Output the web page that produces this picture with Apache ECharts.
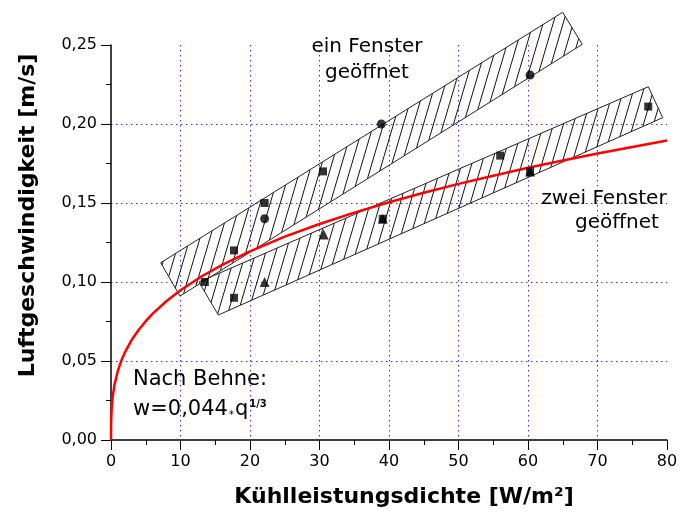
<!DOCTYPE html>
<html>
<head>
<meta charset="utf-8">
<script src="https://cdn.jsdelivr.net/npm/echarts@6/dist/echarts.min.js"></script>
<style>html,body{margin:0;padding:0;background:#fff;}#c{width:687px;height:517px;}</style>
</head>
<body>
<div id="c"></div>
<script>
// --- data ---
const squaresX = [13.5, 17.7, 17.7, 22.1, 30.5, 39.1, 56.0, 60.3, 77.3];
const squaresY = [0.100, 0.090, 0.120, 0.150, 0.170, 0.140, 0.180, 0.170, 0.211];
const circlesX = [22.1, 38.9, 60.3];
const circlesY = [0.140, 0.200, 0.231];
const trianglesX = [22.1, 30.6, 39.1, 60.3];
const trianglesY = [0.100, 0.130, 0.140, 0.170];
// Behne curve, values
const curveX = [0, 0.01, 0.03, 0.1, 0.25, 0.5, 1, 1.5, 2, 3, 4, 5, 6, 8, 10, 13, 16, 20, 25, 30, 35, 40, 45, 50, 55, 60, 65, 70, 75, 80];
const curveY = [0, 0.0095, 0.0137, 0.0204, 0.0277, 0.0349, 0.0440, 0.0504, 0.0554, 0.0635, 0.0698, 0.0752, 0.0800, 0.0880, 0.0948, 0.1035, 0.1108, 0.1194, 0.1287, 0.1367, 0.1439, 0.1505, 0.1565, 0.1621, 0.1673, 0.1723, 0.1769, 0.1813, 0.1855, 0.1896];
// hatched bands (corner points in data units)
const einBandX = [7.15, 64.99, 67.81, 9.93];
const einBandY = [0.1122, 0.2707, 0.2504, 0.0911];
const zweiBandX = [12.66, 77.31, 79.38, 15.44];
const zweiBandY = [0.1000, 0.2236, 0.2040, 0.0791];
const xTicks = [0, 10, 20, 30, 40, 50, 60, 70, 80];
const yTicks = ['0,00', '0,05', '0,10', '0,15', '0,20', '0,25'];

const zip = (xs, ys) => xs.map((x, i) => [x, ys[i]]);
const bands = [zip(einBandX, einBandY), zip(zweiBandX, zweiBandY)];

// hatch pattern
const pc = document.createElement('canvas');
pc.width = 10; pc.height = 34;
const g = pc.getContext('2d');
g.strokeStyle = '#111';
g.lineWidth = 1;
for (let k = -1; k <= 1; k++) {
  g.beginPath();
  g.moveTo(k * 10, 34);
  g.lineTo(k * 10 + 10, 0);
  g.stroke();
}
const hatch = { image: pc, repeat: 'repeat' };

const FONT = 'DejaVu Sans';
const chart = echarts.init(document.getElementById('c'), null, { renderer: 'canvas' });
const gridLine = { show: true, showMinLine: false, showMaxLine: false, lineStyle: { color: '#3333ff', width: 1, type: [1.5, 3.5] } };

chart.setOption({
  backgroundColor: '#fff',
  animation: false,
  grid: { left: 111, right: 20, top: 45, bottom: 77 },
  xAxis: {
    type: 'value', min: 0, max: 80, interval: 10,
    name: 'Kühlleistungsdichte [W/m²]', nameLocation: 'middle', nameGap: 46,
    nameTextStyle: { fontFamily: FONT, fontWeight: 'bold', fontSize: 22, color: '#000', padding: [0, 0, 0, 30] },
    axisLine: { lineStyle: { color: '#000', width: 1.5 } },
    axisTick: { length: 10, inside: false, lineStyle: { color: '#000', width: 1 } },
    minorTick: { show: true, splitNumber: 2, length: 5, lineStyle: { color: '#000', width: 1 } },
    axisLabel: { fontFamily: FONT, fontSize: 16, color: '#000', margin: 14,
      formatter: v => String(xTicks[Math.round(v / 10)]) },
    splitLine: gridLine
  },
  yAxis: {
    type: 'value', min: 0, max: 0.25, interval: 0.05,
    name: 'Luftgeschwindigkeit [m/s]', nameLocation: 'middle', nameGap: 72, nameRotate: 90,
    nameTextStyle: { fontFamily: FONT, fontWeight: 'bold', fontSize: 22, color: '#000', padding: [0, 0, 0, 54] },
    axisLine: { show: true, lineStyle: { color: '#000', width: 1.5 } },
    axisTick: { show: true, length: 10, lineStyle: { color: '#000', width: 1 } },
    minorTick: { show: true, splitNumber: 2, length: 5, lineStyle: { color: '#000', width: 1 } },
    axisLabel: { fontFamily: FONT, fontSize: 16, color: '#000', margin: 14,
      formatter: v => yTicks[Math.round(v / 0.05)] },
    splitLine: gridLine
  },
  series: [
    {
      type: 'custom', z: 1, clip: false,
      data: [0, 1],
      renderItem: function (params, api) {
        const pts = bands[params.dataIndex].map(p => api.coord(p));
        return { type: 'polygon', shape: { points: pts },
          style: { fill: hatch, stroke: '#222', lineWidth: 1 } };
      }
    },
    {
      type: 'line', z: 3, smooth: false, symbol: 'none',
      data: zip(curveX, curveY),
      lineStyle: { color: '#ff0000', width: 2.5, join: 'round' }
    },
    { type: 'scatter', z: 5, symbol: 'rect', symbolSize: 8, itemStyle: { color: '#000' }, data: zip(squaresX, squaresY) },
    { type: 'scatter', z: 5, symbol: 'circle', symbolSize: 9, itemStyle: { color: '#000' }, data: zip(circlesX, circlesY) },
    { type: 'scatter', z: 5, symbol: 'triangle', symbolSize: 10, itemStyle: { color: '#000' }, data: zip(trianglesX, trianglesY) }
  ],
  graphic: [
    { type: 'text', z: 10, style: { x: 367, y: 47, text: 'ein Fenster', align: 'center', verticalAlign: 'middle', font: '20px "DejaVu Sans"', fill: '#000' } },
    { type: 'text', z: 10, style: { x: 367, y: 73, text: 'geöffnet', align: 'center', verticalAlign: 'middle', font: '20px "DejaVu Sans"', fill: '#000' } },
    { type: 'text', z: 10, style: { x: 604, y: 199, text: 'zwei Fenster', align: 'center', verticalAlign: 'middle', font: '20px "DejaVu Sans"', fill: '#000' } },
    { type: 'text', z: 10, style: { x: 617, y: 223, text: 'geöffnet', align: 'center', verticalAlign: 'middle', font: '20px "DejaVu Sans"', fill: '#000' } },
    { type: 'text', z: 10, style: { x: 133, y: 380, text: 'Nach Behne:', align: 'left', verticalAlign: 'middle', font: '21px "DejaVu Sans"', fill: '#000' } },
    { type: 'text', z: 10, style: { x: 133, y: 410, align: 'left', verticalAlign: 'middle',
        text: '{a|w=0,044}{b|*}{a|q}{c|1/3}',
        rich: {
          a: { fontFamily: FONT, fontSize: 21, color: '#000', verticalAlign: 'middle' },
          b: { fontFamily: FONT, fontSize: 10, color: '#000', verticalAlign: 'bottom', padding: [8, 1, 0, 1] },
          c: { fontFamily: FONT, fontSize: 10, fontWeight: 'bold', color: '#000', verticalAlign: 'top', padding: [0, 0, 10, 1] }
        } } }
  ]
});
</script>
</body>
</html>
